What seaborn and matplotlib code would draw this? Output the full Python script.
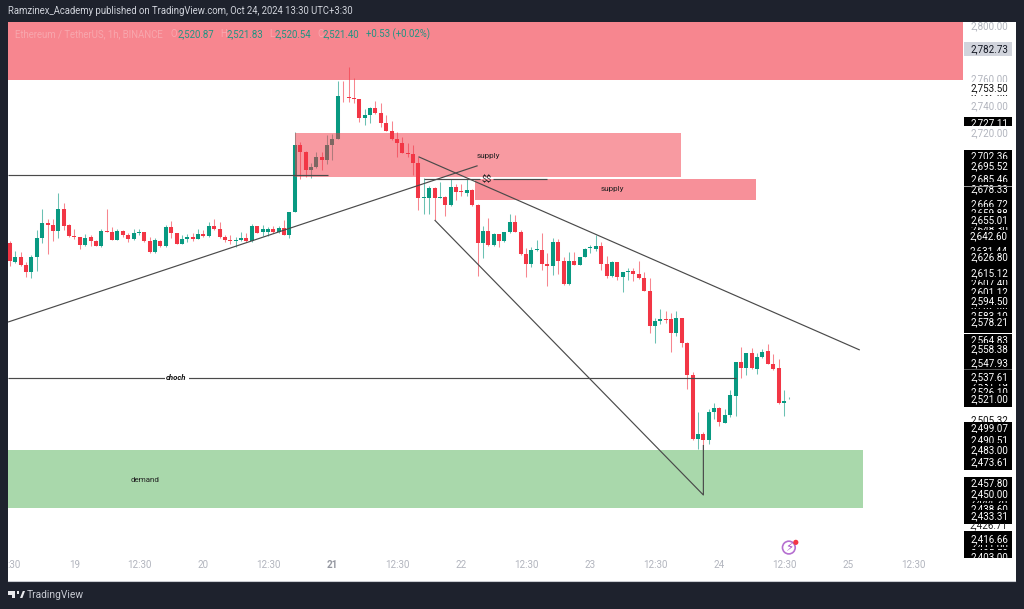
import numpy as np
import pandas as pd
import matplotlib
matplotlib.use("Agg")
import matplotlib.pyplot as plt
from matplotlib.patches import Rectangle, Polygon
from matplotlib.transforms import blended_transform_factory
import seaborn as sns

opens = [2637.2,2622.9,2626.4,2620.4,2615,2626.4,2640.4,2652.2,2650.2,2645.7,
 2662.2,2650.4,2642.2,2641.4,2635.2,2641.2,2638.2,2634.7,2645.9,2645.2,
 2639.4,2646.2,2643.2,2639.7,2644.7,2644.9,2638.2,2630,2638.7,2634.7,
 2648.9,2644.7,2636.2,2640.2,2641.2,2640.2,2643.7,2642.2,2649.7,2647.2,
 2641.2,2639.2,2638.2,2639.2,2640.4,2638.2,2649.4,2645.4,2645.4,2647.4,
 2644.9,2648.2,2643.2,2660,2710,2705.3,2691.4,2693.9,2701.3,2699.1,
 2710.6,2714.5,2747.2,2746.2,2745.7,2744.7,2730.2,2732.9,2737.7,2733.9,
 2727,2721,2714.5,2712,2704.6,2703.6,2696.8,2670.8,2670.8,2678.4,
 2670.8,2671.6,2665.4,2678.9,2675.9,2674.2,2676.4,2665.4,2637,2646,
 2635.2,2643.5,2638.7,2645.2,2652.7,2645.5,2628.7,2621.2,2631.4,2631.7,
 2621,2620,2637.9,2623.2,2606.2,2623.8,2620.8,2626.8,2633.2,2632.8,
 2634.8,2621.5,2612.5,2623,2611.5,2615,2616,2613.5,2610.5,2601.3,
 2575.2,2578.7,2580.2,2579.9,2570,2580.7,2562.2,2538.2,2490.5,2494.5,
 2489.5,2510.8,2514,2502.7,2508.7,2522.7,2548,2543.5,2554.6,2543,
 2551.4,2555.9,2546.9,2543.2,2517.5,2520.87]
highs = [2638.7,2631.2,2630,2623,2628,2646.7,2662.2,2655,2655,2674.7,
 2667.2,2651.2,2647.2,2641.4,2643.4,2642.7,2639.2,2647.2,2662.2,2649.2,
 2647.2,2646.7,2644.2,2647.2,2647.2,2644.9,2641.2,2640.4,2639.2,2650.2,
 2653.4,2644.7,2642.7,2643.7,2644.2,2647.7,2646.7,2653,2654.7,2653,
 2642.7,2642.7,2641.2,2644.9,2644.2,2651.2,2650,2650.2,2649.2,2650,
 2650,2654.2,2660.4,2720,2712.8,2706.1,2697.1,2705.1,2705.1,2717.8,
 2718.5,2758.4,2758.4,2768.9,2760.2,2744.7,2736.9,2738.4,2743.4,2741.9,
 2732.7,2728.2,2719.7,2716,2712,2710.3,2701.6,2685.3,2679.6,2678.8,
 2682.9,2672.2,2684.6,2681,2681,2684.6,2677.2,2666.2,2650,2656,
 2644.7,2643.7,2645.2,2658.4,2658,2646.7,2633,2633.7,2639.2,2644.2,
 2629.7,2640.4,2639.7,2626.7,2630.4,2630.5,2626.8,2633.5,2635.5,2643,
 2637.5,2627.3,2623.8,2623,2615.5,2618.5,2618.5,2623.3,2615,2610.5,
 2581,2587.6,2586.4,2584.4,2586.4,2580.7,2562.7,2540.7,2510.5,2495.7,
 2513,2517.2,2514.5,2513.2,2527,2548.2,2559.5,2554.9,2558.2,2554.4,
 2557.4,2561.2,2553.7,2550,2526.9,2521.83]
lows = [2619.9,2622.2,2619.9,2611.7,2611,2616.2,2636.7,2628.5,2638.7,2640.4,
 2646.7,2641.2,2640,2632.5,2635,2635,2634.5,2634.2,2644.9,2639.2,
 2639.2,2641.7,2637.9,2639.2,2643,2637.9,2629.5,2629.5,2634.2,2634.2,
 2640.4,2636,2636,2637.9,2638.7,2639.7,2641.7,2641.7,2646.7,2640.7,
 2637.7,2636,2634.2,2638.7,2637.9,2637.4,2644.2,2642.2,2642.2,2644.2,
 2644.2,2642.7,2640.9,2660,2684.6,2686.6,2685.9,2693.4,2691.6,2696.1,
 2699.1,2714.5,2742.7,2742.2,2741.9,2727.7,2725,2727,2733.4,2724,
 2720.5,2714,2701,2704.1,2701.6,2687.8,2661.6,2658.4,2658.6,2654.2,
 2670.3,2657.4,2664.9,2669.2,2672.2,2672.2,2664.9,2612.3,2626,2635,
 2634.7,2634,2638,2644.7,2645,2628,2611.7,2618.7,2631,2616.7,
 2605.2,2613,2614.2,2605.7,2605.7,2620.5,2620.3,2626.3,2629.3,2631.3,
 2616.8,2611,2611.8,2609.3,2600,2609,2608.5,2609.8,2600.8,2570,
 2562.5,2576.4,2576.9,2555.8,2567.5,2559.5,2528.2,2490,2483.2,2482,
 2487,2505.3,2500.2,2502.5,2507,2507.5,2536.2,2538.2,2542.7,2539,
 2550.7,2546.2,2542,2517,2507.4,2520.54]
closes = [2623.4,2626.4,2620.4,2615,2626.4,2640.4,2652.2,2650.2,2645.7,2662.2,
 2650,2642.2,2641.4,2635.2,2640.9,2638.2,2634.7,2646.2,2645.4,2639.4,
 2646.2,2642.7,2639.7,2644.7,2645.4,2638.2,2630,2638.9,2634.7,2648.9,
 2644.7,2636.2,2640.2,2641.2,2640.2,2643.7,2642.2,2649.7,2647.2,2641.2,
 2639.2,2638.2,2639.2,2640.4,2638.7,2649.7,2644.7,2647.2,2647.4,2644.9,
 2648.2,2643.2,2659.9,2710,2705.3,2691.3,2693.9,2701.3,2699.1,2710.6,
 2714.5,2746.9,2746.7,2745.4,2744.7,2730.2,2732.9,2737.7,2733.9,2726.9,
 2721,2714.5,2712,2704.6,2703.6,2696.8,2670.8,2671.6,2678.4,2670.8,
 2671.6,2665.4,2678.9,2675.2,2675.2,2676.4,2665.4,2637,2646,2635.5,
 2644,2638.7,2645.2,2652.7,2645.5,2628.7,2621.2,2631.7,2632.7,2621,
 2620,2637.9,2623.2,2606.2,2623.7,2620.8,2626.8,2632.8,2634,2634.8,
 2621.5,2612.5,2623,2611.3,2615.3,2616,2613.5,2610.5,2601.3,2575.2,
 2578.5,2580.2,2579.7,2569.7,2580.7,2562.2,2538.2,2490.5,2494.5,2489.5,
 2511,2514,2503,2508.7,2523,2548.2,2543.7,2554.6,2543.2,2551.9,
 2555.6,2546.9,2543,2517.2,2519.2,2521.40]

zone_names = ["upper", "middle", "lower", "demand"]
zone_start = [-0.37, 53, 86.5, -0.37]
zone_end = [177.3, 124.8, 138.8, 158.7]
zone_low = [2758.9, 2686.6, 2669.2, 2438.9]
zone_high = [2803, 2719, 2684.6, 2482.6]

line_x = [[-0.37, 59.2], [-0.37, 87.0], [76.0, 158.1], [79.0, 129.0, 129.0], [77.0, 87.4], [89.9, 100.0], [-0.37, 135.0]]
line_y = [[2687.6, 2687.6], [2577.9, 2694.8], [2701.5, 2557.0], [2654.2, 2448.6, 2486.0], [2684.5, 2684.5], [2684.5, 2684.5], [2536.2, 2536.2]]

date_ticks = [0.7, 12, 24, 36, 48, 60, 72, 84, 96, 108, 120, 132, 144, 156, 168]
date_labels = [":30", "19", "12:30", "20", "12:30", "21", "12:30", "22", "12:30", "23", "12:30", "24", "12:30", "25", "12:30"]

gray_prices = [2800.00, 2760.00, 2740.00, 2720.00]
white_full_prices = [2753.50]
white_partial_prices = [2746.00, 2505.32]
behind_price = 2426.71
black_full_prices = [2727.11, 2702.36, 2695.52, 2685.46, 2678.33, 2655.01, 2642.60, 2626.80, 2615.12, 2601.12,
                     2594.50, 2578.21, 2558.38, 2537.61, 2521.00, 2499.07, 2490.51, 2483.00, 2473.61,
                     2457.80, 2450.00, 2433.31, 2416.66]
black_partial_prices = [2666.72, 2659.88, 2648.30, 2631.44, 2607.40, 2586.90, 2583.10, 2564.83, 2552.50, 2547.93,
                        2531.19, 2526.10, 2444.20, 2438.60, 2411.00, 2405.50, 2403.00]
block_tops = [2706.5, 2568.7, 2503.2, 2462.0, 2421.7]
block_bottoms = [2569.9, 2514.6, 2467.3, 2426.9, 2401.0]
last_price = 2782.73

sns.set_theme(style="white")
plt.rcParams["font.family"] = ["Roboto", "DejaVu Sans"]

BG = "#1e222d"
RED = "#f23645"
GREEN = "#089981"
LINE = "#4a4a4a"

fig = plt.figure(figsize=(10.24, 6.09), dpi=100, facecolor=BG)
ax = fig.add_axes([8 / 1024, 28.5 / 609, 1007.5 / 1024, 558.5 / 609], facecolor="white")

df = pd.DataFrame({"i": np.arange(len(opens)), "o": opens, "h": highs, "l": lows, "c": closes})
df["dir"] = np.where(df.c >= df.o, "up", "down")
palette = {"up": GREEN, "down": RED}

wicks = df.melt(id_vars=["i", "dir"], value_vars=["h", "l"], value_name="price")
sns.lineplot(data=wicks, x="i", y="price", hue="dir", units="i", estimator=None, sort=False,
             palette=palette, linewidth=0.75, alpha=0.6, legend=False, ax=ax, zorder=3,
             solid_capstyle="butt")
bodies = df.melt(id_vars=["i", "dir"], value_vars=["o", "c"], value_name="price")
sns.lineplot(data=bodies, x="i", y="price", hue="dir", units="i", estimator=None, sort=False,
             palette=palette, linewidth=2.9, legend=False, ax=ax, zorder=4,
             solid_capstyle="butt")

zone_colors = [RED, RED, RED, "#4caf50"]
zone_alpha = [0.6, 0.5, 0.55, 0.48]
for s, e, lo, hi, col, a in zip(zone_start, zone_end, zone_low, zone_high, zone_colors, zone_alpha):
    ax.add_patch(Rectangle((s, lo), e - s, hi - lo, facecolor=col, edgecolor="none", alpha=a, zorder=5))

for xs, ys in zip(line_x, line_y):
    ax.plot(xs, ys, color=LINE, lw=0.85, zorder=6, solid_capstyle="butt")

ax.text(89.1, 2702, "supply", fontsize=5.9, color="#222222", ha="center", va="center", zorder=7)
ax.text(112, 2677.4, "supply", fontsize=5.9, color="#222222", ha="center", va="center", zorder=7)
ax.text(25.1, 2460, "demand", fontsize=5.8, color="#222222", ha="center", va="center", zorder=7)
ax.text(88.7, 2684.5, "$$", fontsize=6.5, color="#222222", ha="center", va="center", zorder=7,
        parse_math=False)
ax.text(31, 2536.2, "choch", fontsize=5.6, color="#111111", style="italic", weight="bold",
        ha="center", va="center", zorder=7, bbox=dict(facecolor="white", edgecolor="none", pad=1.2))

legend_y = 2800 - (34 - 25) / 1.3375
legend_parts = [(1.0, "Ethereum / TetherUS, 1h, BINANCE", "#f7a6ad"), (29.9, "O", "#f7a6ad"),
                (31.1, "2,520.87", "#1f9482"), (39.1, "H", "#f7a6ad"), (40.3, "2,521.83", "#1f9482"),
                (48.2, "L", "#f7a6ad"), (49.2, "2,520.54", "#1f9482"), (57.2, "C", "#f7a6ad"),
                (58.2, "2,521.40", "#1f9482"), (66.2, "+0.53 (+0.02%)", "#1f9482")]
for xp, t, c in legend_parts:
    ax.text(xp, legend_y, t, fontsize=6.9, color=c, ha="left", va="center", zorder=8)

sns.scatterplot(x=[144.9], y=[2409.3], s=84, facecolor="none", edgecolor="#b56fd0", linewidth=1.2, ax=ax, zorder=7)
sns.scatterplot(x=[146.2], y=[2413.2], s=14, color="#f23645", edgecolor="none", ax=ax, zorder=8)
ax.text(144.9, 2409.1, "\u26a1", fontsize=8.5, color="#a64fc8", family="DejaVu Sans", ha="center", va="center", zorder=8)

ax.set_xlim(-0.372, 187.07)
ax.set_ylim(2384.67, 2802.24)

# price scale
trans = blended_transform_factory(ax.transAxes, ax.transData)
box_x = (964.3 - 8) / 1007.5
box_w = 47.7 / 1007.5
txt_x = (989 - 8) / 1007.5
half = 13.3 / 1.3375 / 2
off = 0.75


def tag(price, z, text_color, box_color):
    y = price - off
    if box_color is not None:
        ax.add_patch(Rectangle((box_x, y - half), box_w, 2 * half, transform=trans,
                               facecolor=box_color, edgecolor="none", zorder=z))
    ax.text(txt_x, y, f"{price:,.2f}", transform=trans, fontsize=7.1, color=text_color,
            ha="center", va="center", zorder=z)


for top, bottom in zip(block_tops, block_bottoms):
    ax.add_patch(Rectangle((box_x, bottom), box_w, top - bottom, transform=trans,
                           facecolor="black", edgecolor="none", zorder=9))
ax.text(txt_x, behind_price - off, f"{behind_price:,.2f}", transform=trans, fontsize=7.1, color="#222222",
        ha="center", va="center", zorder=9.9)
tag(last_price, 9.5, "#131722", "#d1d4dc")

z = 10.0
partial = [(p, "#111111", "white") for p in white_partial_prices] + [(p, "white", "black") for p in black_partial_prices]
for p, tc, bc in sorted(partial, key=lambda t: -t[0]):
    tag(p, z, tc, bc)
    z += 0.02
ax.add_patch(Rectangle((box_x, 2740.4), box_w, 6.5, transform=trans, facecolor="white", edgecolor="none", zorder=11.5))

z = 12.0
full = [(p, "#b2b5be", "white") for p in gray_prices] + [(p, "#111111", "white") for p in white_full_prices] + \
       [(p, "white", "black") for p in black_full_prices]
for p, tc, bc in sorted(full, key=lambda t: -t[0]):
    tag(p, z, tc, bc)
    z += 0.02

ax.add_patch(Rectangle((box_x, 2678.6), 1 - box_x - 3 / 1007.5, 0.7, transform=trans,
                       facecolor="#9a9a9a", edgecolor="none", zorder=30))
ax.add_patch(Rectangle((box_x, 2541.9), box_w, 0.6, transform=trans,
                       facecolor="#555555", edgecolor="none", zorder=30))

# time scale pane
ax.add_patch(Rectangle((0, 0), 1, 22.5 / 558.5, transform=ax.transAxes, facecolor="white",
                       edgecolor="none", zorder=40))
ax.set_xticks(date_ticks)
ax.set_xticklabels(date_labels)
ax.tick_params(axis="x", length=0, pad=-15, labelsize=7.1, labelcolor="#b2b5be", direction="in")
for lab in ax.get_xticklabels():
    if lab.get_text() == "21":
        lab.set_fontweight("bold")
        lab.set_color("#9598a1")
ax.set_yticks([])
ax.set_xlabel("")
ax.set_ylabel("")
ax.xaxis.set_zorder(50)
sns.despine(ax=ax, top=True, left=True)
for s in ["bottom", "right"]:
    ax.spines[s].set_color("#c9cbd1")
    ax.spines[s].set_linewidth(0.8)

# frame text
fig.text(8 / 1024, 1 - 11.5 / 609, "Ramzinex_Academy published on TradingView.com, Oct 24, 2024 13:30 UTC+3:30",
         color="#d1d4dc", fontsize=6.87, ha="left", va="center")
fig.text(27 / 1024, 1 - 595 / 609, "TradingView", color="#c8cbd3", fontsize=7.4, ha="left", va="center")


def px(x, y):
    return (x / 1024, 1 - y / 609)


fig.add_artist(Polygon([px(8, 591), px(15, 591), px(15, 598), px(11.5, 598), px(11.5, 594.5), px(8, 594.5)],
                       closed=True, facecolor="#e8e9ec", edgecolor="none", transform=fig.transFigure))
fig.add_artist(Polygon([px(20, 598), px(22.8, 591), px(25, 591), px(22.4, 598)],
                       closed=True, facecolor="#e8e9ec", edgecolor="none", transform=fig.transFigure))
fig.add_artist(Polygon([px(16.6, 591), px(19.2, 591), px(19.2, 594), px(16.6, 594)],
                       closed=True, facecolor="#e8e9ec", edgecolor="none", transform=fig.transFigure))

fig.savefig("out.png", dpi=100, facecolor=BG)
